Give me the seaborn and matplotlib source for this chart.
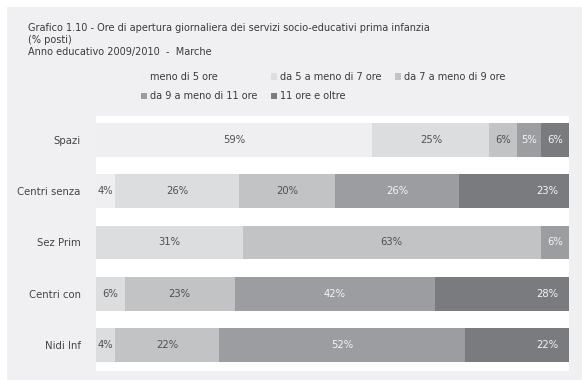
import matplotlib
matplotlib.use("Agg")
import matplotlib.pyplot as plt
from matplotlib.patches import Rectangle, Patch
import numpy as np
import pandas as pd
import seaborn as sns

# Servizi e quote di posti per fascia oraria di apertura (%)
servizi = ["Spazi", "Centri senza", "Sez Prim", "Centri con", "Nidi Inf"]
fasce = ["meno di 5 ore", "da 5 a meno di 7 ore", "da 7 a meno di 9 ore",
         "da 9 a meno di 11 ore", "11 ore e oltre"]
meno_5 = [59, 4, 0, 0, 0]
da_5_a_7 = [25, 26, 31, 6, 4]
da_7_a_9 = [6, 20, 63, 23, 22]
da_9_a_11 = [5, 26, 6, 42, 52]
oltre_11 = [6, 23, 0, 28, 22]

colori = ["#efeff1", "#dcdddf", "#c2c3c5", "#9c9da1", "#7a7b7f"]
colori_testo = ["#505050", "#505050", "#505050", "#f4f4f4", "#f4f4f4"]
sfondo = "#f0f0f2"

sns.set_theme(style="white")
plt.rcParams["font.family"] = ["DejaVu Sans"]

df = pd.DataFrame(dict(zip(fasce, [meno_5, da_5_a_7, da_7_a_9, da_9_a_11, oltre_11])),
                  index=servizi)
quote = df.div(df.sum(axis=1), axis=0) * 100  # ogni barra riempie il 100%
cumul = quote.cumsum(axis=1)

fig = plt.figure(figsize=(5.82, 3.80), dpi=100)
fig.patch.set_facecolor("white")
fig.patches.append(Rectangle((7 / 582, 0), 1 - 7 / 582, 1 - 7 / 380,
                             transform=fig.transFigure, facecolor=sfondo,
                             edgecolor="none", zorder=-10))

ax = fig.add_axes([96 / 582, 9 / 380, 473 / 582, 255 / 380])
ax.set_facecolor("white")

# barre impilate: si disegnano i cumulati dal più lungo al più corto
for i in range(len(fasce) - 1, -1, -1):
    sns.barplot(x=cumul.iloc[:, i].values, y=servizi, orient="h",
                color=colori[i], saturation=1, width=0.66, ax=ax,
                edgecolor="none", linewidth=0)

for r, serv in enumerate(servizi):
    vals = df.loc[serv].values
    nz = [j for j, v in enumerate(vals) if v > 0]
    ultimo = nz[-1]
    for j in nz:
        inizio = cumul.iloc[r, j] - quote.iloc[r, j]
        fine = cumul.iloc[r, j]
        if j == ultimo and quote.iloc[r, j] > 10:
            x, ha = fine - 2.3, "right"
        else:
            x, ha = (inizio + fine) / 2, "center"
        ax.text(x, r, f"{vals[j]}%", ha=ha, va="center", fontsize=7.2,
                color=colori_testo[j])

ax.set_xlim(0, 100)
ax.set_ylim(4.5, -0.46)
ax.set_xticks([])
ax.set_xlabel("")
ax.set_ylabel("")
for s in ax.spines.values():
    s.set_visible(False)
ax.tick_params(axis="y", length=0, pad=11, labelsize=7.3, labelcolor="#444444")

righe_titolo = ["Grafico 1.10 - Ore di apertura giornaliera dei servizi socio-educativi prima infanzia",
                "(% posti)",
                "Anno educativo 2009/2010  -  Marche"]
for k, riga in enumerate(righe_titolo):
    fig.text(28 / 582, 1 - (28 + 11.8 * k) / 380, riga, ha="left", va="center",
             fontsize=7, color="#3a3a3a")

maniglie = [Patch(facecolor=c, edgecolor="none") for c in colori]
ordine = [0, 3, 1, 4, 2]
leg = fig.legend([maniglie[k] for k in ordine], [fasce[k] for k in ordine],
                 ncol=3, loc="upper left", bbox_to_anchor=(141 / 582, 1 - 72 / 380),
                 frameon=False, fontsize=7, handlelength=0.65, handleheight=0.65,
                 handletextpad=0.3, columnspacing=1.35, labelspacing=0.95,
                 borderpad=0, borderaxespad=0)
for t in leg.get_texts():
    t.set_color("#3a3a3a")

fig.savefig("out.png", dpi=100, facecolor=fig.get_facecolor())
